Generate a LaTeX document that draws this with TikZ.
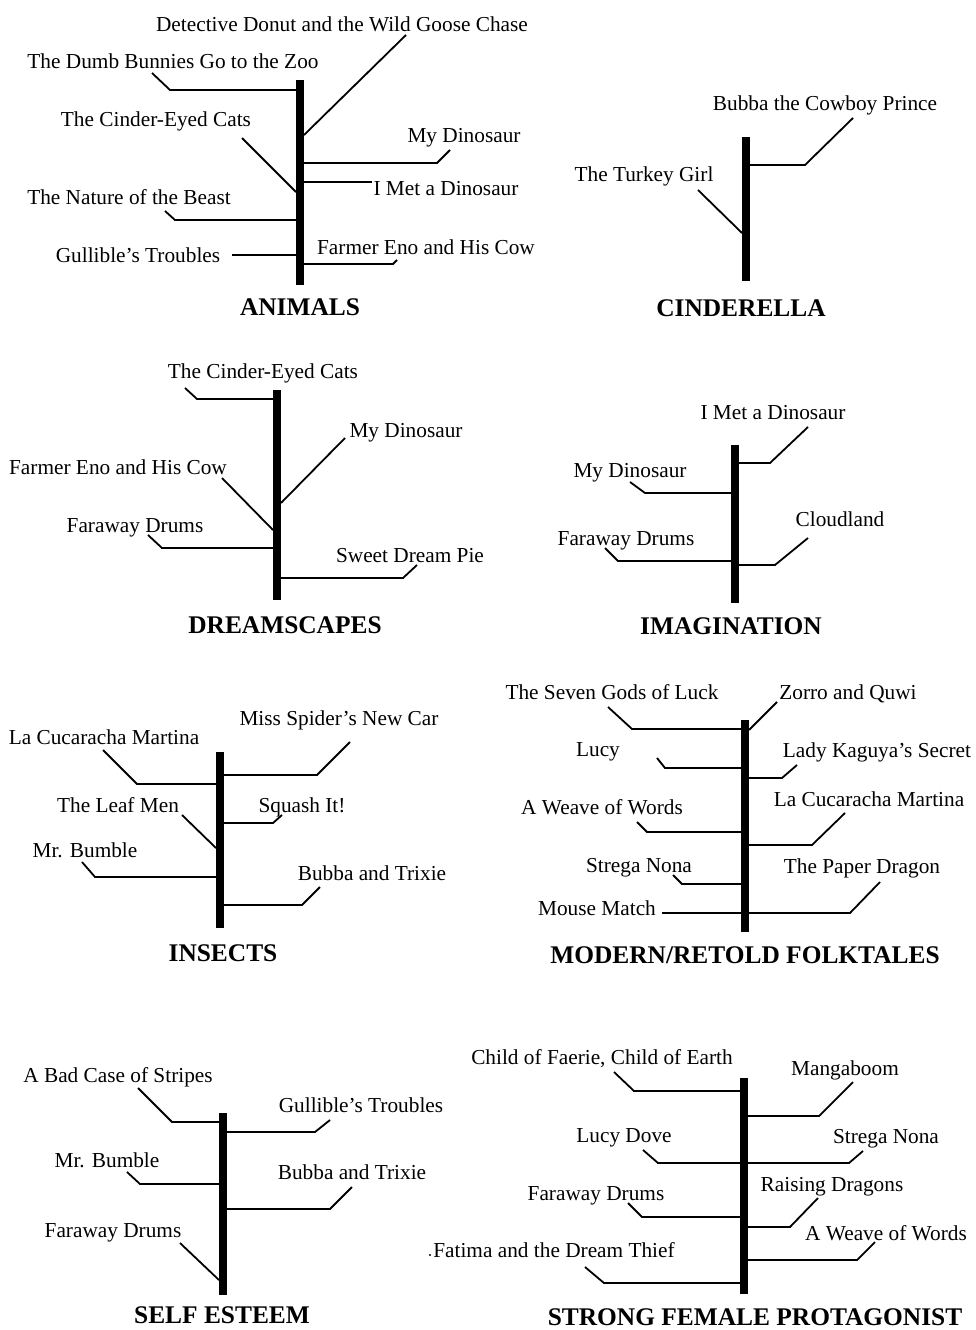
\documentclass[tikz,border=0pt]{standalone}
\usepackage{fontspec}
\setmainfont{Liberation Serif}
\begin{document}
\begin{tikzpicture}[x=1pt,y=-1pt,
  lbl/.style={anchor=base,inner sep=0pt,font=\fontsize{21.3}{24}\selectfont},
  ttl/.style={anchor=base,inner sep=0pt,font=\bfseries\fontsize{25.4}{28}\selectfont},
  bar/.style={line width=8pt},
  branch/.style={line width=1.8pt,line join=miter}]
\useasboundingbox[fill=white] (0,0) rectangle (975,1330);
\newcommand\lab[4]{\node[lbl] (#1) at (#2,#3) {#4};}
%%%%%%%%%%%%%%%% ANIMALS
\draw[bar] (300,80) -- (300,285);
\node[ttl] (tA) at (300,315) {ANIMALS};
\lab{a1}{342}{32}{Detective Donut and the Wild Goose Chase}
\lab{a2}{173}{69}{The Dumb Bunnies Go to the Zoo}
\lab{a3}{156}{126}{The Cinder-Eyed Cats}
\lab{a4}{464}{142}{My Dinosaur}
\lab{a5}{446}{195}{I Met a Dinosaur}
\lab{a6}{129}{204}{The Nature of the Beast}
\lab{a7}{138}{262}{Gullible’s Troubles}
\lab{a8}{426}{254}{Farmer Eno and His Cow}
\draw[branch] (304,135)--(406,35);
\draw[branch] (296,90)--(170,90)--(152,73);
\draw[branch] (242,138)--(296,192);
\draw[branch] (304,163)--(437,163)--(450,150);
\draw[branch] (304,182)--(372,182);
\draw[branch] (296,220)--(175,220)--(165,211);
\draw[branch] (232,255)--(296,255);
\draw[branch] (304,264)--(393,264)--(397,260);
%%%%%%%%%%%%%%%% CINDERELLA
\draw[bar] (746,137) -- (746,281);
\node[ttl] (tC) at (741,316) {CINDERELLA};
\lab{c1}{825}{110}{Bubba the Cowboy Prince}
\lab{c2}{644}{181}{The Turkey Girl}
\draw[branch] (750,165)--(805,165)--(853,118);
\draw[branch] (698,190)--(742,233);
%%%%%%%%%%%%%%%% DREAMSCAPES
\draw[bar] (277,390) -- (277,600);
\node[ttl] (tD) at (285,633) {DREAMSCAPES};
\lab{d1}{263}{378}{The Cinder-Eyed Cats}
\lab{d2}{406}{437}{My Dinosaur}
\lab{d3}{118}{474}{Farmer Eno and His Cow}
\lab{d4}{135}{532}{Faraway Drums}
\lab{d5}{410}{562}{Sweet Dream Pie}
\draw[branch] (273,399)--(197,399)--(185,388);
\draw[branch] (281,503)--(345,438);
\draw[branch] (222,478)--(273,530);
\draw[branch] (273,548)--(162,548)--(148,535);
\draw[branch] (281,578)--(403,578)--(417,565);
%%%%%%%%%%%%%%%% IMAGINATION
\draw[bar] (735,445) -- (735,603);
\node[ttl] (tI) at (731,634) {IMAGINATION};
\lab{i1}{773}{419}{I Met a Dinosaur}
\lab{i2}{630}{477}{My Dinosaur}
\lab{i3}{840}{526}{Cloudland}
\lab{i4}{626}{545}{Faraway Drums}
\draw[branch] (739,463)--(770,463)--(808,427);
\draw[branch] (731,493)--(645,493)--(630,482);
\draw[branch] (739,565)--(775,565)--(808,538);
\draw[branch] (731,561)--(618,561)--(605,548);
%%%%%%%%%%%%%%%% INSECTS
\draw[bar] (220,752) -- (220,928);
\node[ttl] (tN) at (223,961) {INSECTS};
\lab{n1}{339}{725}{Miss Spider’s New Car}
\lab{n2}{104}{744}{La Cucaracha Martina}
\lab{n3}{118}{812}{The Leaf Men}
\lab{n4}{302}{812}{Squash It!}
\lab{n5}{85}{857}{Mr. Bumble}
\lab{n6}{372}{880}{Bubba and Trixie}
\draw[branch] (224,775)--(317,775)--(350,742);
\draw[branch] (216,784)--(137,784)--(103,750);
\draw[branch] (224,823)--(273,823)--(282,815);
\draw[branch] (182,815)--(216,848);
\draw[branch] (216,877)--(95,877)--(82,862);
\draw[branch] (224,905)--(302,905)--(320,887);
%%%%%%%%%%%%%%%% MODERN/RETOLD FOLKTALES
\draw[bar] (745,720) -- (745,932);
\node[ttl] (tM) at (745,963) {MODERN/RETOLD FOLKTALES};
\lab{m1}{612}{699}{The Seven Gods of Luck}
\lab{m2}{848}{699}{Zorro and Quwi}
\lab{m3}{598}{756}{Lucy}
\lab{m4}{877}{757}{Lady Kaguya’s Secret}
\lab{m5}{602}{814}{A Weave of Words}
\lab{m6}{869}{806}{La Cucaracha Martina}
\lab{m7}{639}{872}{Strega Nona}
\lab{m8}{862}{873}{The Paper Dragon}
\lab{m9}{597}{915}{Mouse Match}
\draw[branch] (741,729)--(632,729)--(608,707);
\draw[branch] (749,730)--(777,702);
\draw[branch] (741,768)--(665,768)--(657,758);
\draw[branch] (749,778)--(782,778)--(797,765);
\draw[branch] (741,832)--(647,832)--(637,822);
\draw[branch] (749,845)--(812,845)--(845,813);
\draw[branch] (741,884)--(682,884)--(673,875);
\draw[branch] (662,913)--(741,913);
\draw[branch] (749,913)--(850,913)--(880,882);
%%%%%%%%%%%%%%%% SELF ESTEEM
\draw[bar] (223,1113) -- (223,1295);
\node[ttl] (tS) at (222,1323) {SELF ESTEEM};
\lab{s1}{118}{1082}{A Bad Case of Stripes}
\lab{s2}{361}{1112}{Gullible’s Troubles}
\lab{s3}{107}{1167}{Mr. Bumble}
\lab{s4}{352}{1179}{Bubba and Trixie}
\lab{s5}{113}{1237}{Faraway Drums}
\draw[branch] (219,1122)--(172,1122)--(138,1088);
\draw[branch] (227,1132)--(315,1132)--(330,1120);
\draw[branch] (219,1184)--(140,1184)--(127,1172);
\draw[branch] (227,1209)--(330,1209)--(352,1187);
\draw[branch] (180,1243)--(219,1280);
%%%%%%%%%%%%%%%% STRONG FEMALE PROTAGONIST
\draw[bar] (744,1078) -- (744,1294);
\node[ttl] (tF) at (755,1325) {STRONG FEMALE PROTAGONIST};
\lab{f1}{602}{1064}{Child of Faerie, Child of Earth}
\lab{f2}{845}{1075}{Mangaboom}
\lab{f3}{624}{1142}{Lucy Dove}
\lab{f4}{886}{1143}{Strega Nona}
\lab{f5}{832}{1191}{Raising Dragons}
\lab{f6}{596}{1200}{Faraway Drums}
\lab{f7}{886}{1240}{A Weave of Words}
\lab{f8}{554}{1257}{Fatima and the Dream Thief}
\fill (430,1255) circle (1.1);
\draw[branch] (740,1091)--(634,1091)--(614,1072);
\draw[branch] (748,1116)--(819,1116)--(853,1082);
\draw[branch] (740,1163)--(658,1163)--(643,1150);
\draw[branch] (748,1163)--(849,1163)--(863,1151);
\draw[branch] (740,1217)--(642,1217)--(628,1203);
\draw[branch] (748,1227)--(790,1227)--(818,1198);
\draw[branch] (748,1260)--(857,1260)--(875,1242);
\draw[branch] (740,1283)--(604,1283)--(585,1267);
\end{tikzpicture}
\end{document}
